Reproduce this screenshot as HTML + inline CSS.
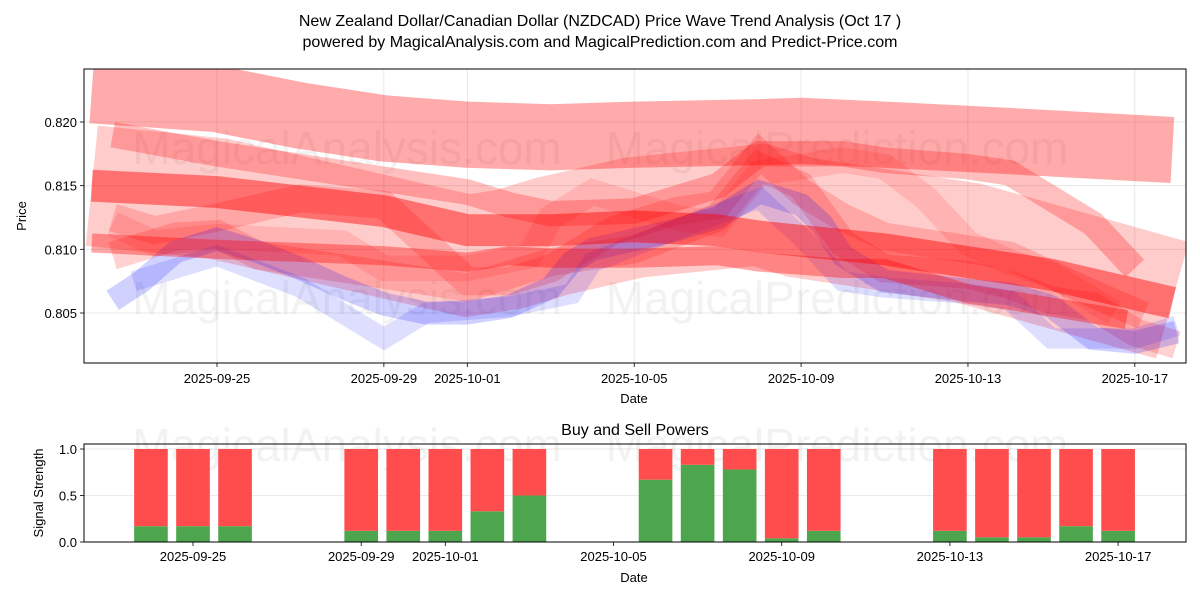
<!DOCTYPE html>
<html><head><meta charset="utf-8"><style>
body{margin:0;background:#fff;}
svg text{font-family:"Liberation Sans",sans-serif;}
</style></head><body>
<svg id="c" width="1200" height="600" xmlns="http://www.w3.org/2000/svg">
<text x="600" y="26" font-size="16" text-anchor="middle">New Zealand Dollar/Canadian Dollar (NZDCAD) Price Wave Trend Analysis (Oct 17 )</text>
<text x="600" y="47" font-size="16" text-anchor="middle">powered by MagicalAnalysis.com and MagicalPrediction.com and Predict-Price.com</text>
<g id="top"></g>
<g id="bot"></g>
</svg>
<script>
// ---- data ----
const dateTicks = ["2025-09-25","2025-09-29","2025-10-01","2025-10-05","2025-10-09","2025-10-13","2025-10-17"];
const dateTickDays = [0,4,6,10,14,18,22];
const priceTicks = [0.805,0.810,0.815,0.820];
const bandTopDays = [-3,0,2,4,6,8,10,13,14,16,19,22.9];
const bandTopVals = [0.8225,0.8218,0.8205,0.8195,0.8190,0.8188,0.8190,0.8192,0.8193,0.8190,0.8185,0.8178];
const bandWideDays = [-3,0,2,4,6,7,8,10,13,14,16,18,22.9];
const bandWideVals = [0.8150,0.8140,0.8125,0.8110,0.8095,0.8100,0.8110,0.8125,0.8135,0.8125,0.8115,0.8105,0.8060];
const bandMainDays = [-3,0,4,6,8,10,12,13,16,18,20,22.9];
const bandMainVals = [0.8150,0.8145,0.8130,0.8115,0.8115,0.8118,0.8115,0.8110,0.8100,0.8090,0.8080,0.8058];
const bandLowDays = [-3,0,4,6,7,8,10,12,13,15,16,18,19,21.8];
const bandLowVals = [0.8105,0.8100,0.8095,0.8090,0.8095,0.8093,0.8093,0.8095,0.8090,0.8085,0.8085,0.8065,0.8060,0.8045];
const waveADays = [-2.5,0,2,4,6,7,8,10,12,13,15,16,18,19,21,22];
const waveAVals = [0.8190,0.8175,0.8165,0.8155,0.8145,0.8135,0.8128,0.8130,0.8150,0.8175,0.8175,0.8170,0.8165,0.8160,0.8120,0.8085];
const waveBDays = [-2.5,-1.5,0,2,4,5,6,7,8,9.5,11,12,13,14,15,16,19,21,22.2];
const waveBVals = [0.8125,0.8115,0.8125,0.8140,0.8135,0.8105,0.8075,0.8075,0.8085,0.8115,0.8130,0.8135,0.8175,0.8145,0.8125,0.8110,0.8095,0.8065,0.8048];
const waveCDays = [-2.5,-1,0,1,3,4,5,6,7,8,9,10,12,13,14,15,16,18,19,20,21,22,23];
const waveCVals = [0.8095,0.8110,0.8112,0.8095,0.8085,0.8080,0.8075,0.8070,0.8080,0.8090,0.8095,0.8100,0.8125,0.8165,0.8150,0.8105,0.8085,0.8080,0.8072,0.8060,0.8055,0.8035,0.8025];
const waveDDays = [-2.5,-1.5,0,3,4,6,7.5,8,9,10,11,12,13,14,15,16,17,18,19,20,21.5];
const waveDVals = [0.8120,0.8105,0.8110,0.8105,0.8085,0.8085,0.8095,0.8125,0.8145,0.8135,0.8125,0.8120,0.8160,0.8165,0.8170,0.8165,0.8140,0.8105,0.8090,0.8080,0.8050];
const blueADays = [-2.5,-1.8,-1,0,1,2,3,4,5,6,7,8,8.5,9,11,12,13,14,14.5,15,16,18,19,20,21,22,23];
const blueAVals = [0.8060,0.8075,0.8098,0.8108,0.8098,0.8085,0.8070,0.8057,0.8050,0.8050,0.8055,0.8070,0.8090,0.8100,0.8115,0.8125,0.8145,0.8135,0.8120,0.8095,0.8075,0.8068,0.8065,0.8055,0.8030,0.8027,0.8035];
const blueBDays = [-2,0,2,4,5,7,8.5,9,12,13,14,15,16,18,19,20,22,23];
const blueBVals = [0.8075,0.8095,0.8070,0.8030,0.8050,0.8055,0.8065,0.8090,0.8128,0.8140,0.8110,0.8075,0.8070,0.8065,0.8060,0.8030,0.8030,0.8040];
const barDays = [-1,0,1,4,5,6,7,8,11,12,13,14,15,18,19,20,21,22];
const buyVals = [0.17,0.17,0.17,0.12,0.12,0.12,0.33,0.5,0.67,0.83,0.78,0.04,0.12,0.12,0.05,0.05,0.17,0.12];
const signalTicks = [0.0,0.5,1.0];

const NS="http://www.w3.org/2000/svg";
function mk(tag,attrs,parent){const e=document.createElementNS(NS,tag);for(const k in attrs)e.setAttribute(k,attrs[k]);parent.appendChild(e);return e;}
const topG=document.getElementById('top'), bot=document.getElementById('bot');
const T={x0:84,x1:1186,y0:69,y1:363};
const xT=d=>217+41.72*d;
const yT=p=>122+(0.820-p)*12733;
const B={x0:84,x1:1186,y0:444,y1:542};
const xB=d=>193+42.05*d;
const yB=v=>542-v*93;

dateTickDays.forEach((d,i)=>{
  const g=mk('line',{x1:xT(d),x2:xT(d),y1:T.y0,y2:T.y1,stroke:'#b0b0b0','stroke-opacity':0.35,'stroke-width':0.8},topG);
  
  
  mk('line',{x1:xT(d),x2:xT(d),y1:T.y1,y2:T.y1+4,stroke:'#000','stroke-width':0.8},topG);
  const t=mk('text',{x:xT(d),y:T.y1+20,'font-size':13,'text-anchor':'middle'},topG);t.textContent=dateTicks[i];
  
  
});
priceTicks.forEach(p=>{
  const g=mk('line',{x1:T.x0,x2:T.x1,y1:yT(p),y2:yT(p),stroke:'#b0b0b0','stroke-opacity':0.35,'stroke-width':0.8},topG);
  
  
});
[[347,148,'MagicalAnalysis.com'],[837,148,'MagicalPrediction.com'],[347,298,'MagicalAnalysis.com'],[837,298,'MagicalPrediction.com']].forEach(w=>{
  const t=mk('text',{x:w[0],y:w[1]+16,'font-size':46,'text-anchor':'middle',fill:'#000','fill-opacity':0.05},topG);t.textContent=w[2];
  
  
});
function band(days,vals,w,color,op,name){
  const pts=days.map((d,i)=>xT(d).toFixed(1)+','+yT(vals[i]).toFixed(1)).join(' ');
  const e=mk('polyline',{points:pts,fill:'none',stroke:color,'stroke-width':w*12733,'stroke-opacity':op,'stroke-linejoin':'miter','stroke-linecap':'butt'},topG);
  
  
}
band(bandWideDays,bandWideVals,0.0095,'#ff0000',0.2,'wide-band');
band(waveDDays,waveDVals,0.0020,'#ff0000',0.12,'wave-band-d');
band(waveBDays,waveBVals,0.0022,'#ff0000',0.18,'wave-band-b');
band(waveCDays,waveCVals,0.0022,'#ff0000',0.18,'wave-band-c');
band(blueBDays,blueBVals,0.0016,'#0000ff',0.13,'blue-band-b');
band(blueADays,blueAVals,0.0018,'#0000ff',0.18,'blue-band-a');
band(waveADays,waveAVals,0.0020,'#ff0000',0.25,'wave-band-a');
band(bandLowDays,bandLowVals,0.0015,'#ff0000',0.35,'low-band');
band(bandMainDays,bandMainVals,0.0025,'#ff0000',0.45,'main-band');
band(bandTopDays,bandTopVals,0.0052,'#ff0000',0.33,'top-band');
mk('rect',{x:0,y:55,width:T.x0,height:320,fill:'#fff'},topG);
mk('rect',{x:T.x0,y:55,width:T.x1-T.x0,height:T.y0-55,fill:'#fff'},topG);
mk('rect',{x:T.x1,y:55,width:1200-T.x1,height:320,fill:'#fff'},topG);
priceTicks.forEach(p=>{
  mk('line',{x1:T.x0-4,x2:T.x0,y1:yT(p),y2:yT(p),stroke:'#000','stroke-width':0.8},topG);
  const t=mk('text',{x:T.x0-7,y:yT(p)+5,'font-size':13,'text-anchor':'end'},topG);t.textContent=p.toFixed(3);
  
  
});
const fr=mk('rect',{x:T.x0,y:T.y0,width:T.x1-T.x0,height:T.y1-T.y0,fill:'none',stroke:'#000','stroke-width':1},topG);


let t=mk('text',{x:634,y:403,'font-size':13,'text-anchor':'middle'},topG);t.textContent='Date';


t=mk('text',{x:26,y:216,'font-size':13,'text-anchor':'middle',transform:'rotate(-90 26 216)'},topG);t.textContent='Price';



t=mk('text',{x:635,y:435,'font-size':16,'text-anchor':'middle'},bot);t.textContent='Buy and Sell Powers';


signalTicks.forEach(v=>{
  const g=mk('line',{x1:B.x0,x2:B.x1,y1:yB(v),y2:yB(v),stroke:'#b0b0b0','stroke-opacity':0.35,'stroke-width':0.8},bot);
  
  
  mk('line',{x1:B.x0-4,x2:B.x0,y1:yB(v),y2:yB(v),stroke:'#000','stroke-width':0.8},bot);
  const l=mk('text',{x:B.x0-7,y:yB(v)+5,'font-size':13,'text-anchor':'end'},bot);l.textContent=v.toFixed(1);
  
  
});
[[347,445,'MagicalAnalysis.com'],[837,445,'MagicalPrediction.com']].forEach(w=>{
  const l=mk('text',{x:w[0],y:w[1]+16,'font-size':46,'text-anchor':'middle',fill:'#000','fill-opacity':0.05},bot);l.textContent=w[2];
  
  
});
barDays.forEach((d,i)=>{
  const bw=42.05*0.8, x=xB(d)-bw/2;
  const g=mk('rect',{x:x,y:yB(buyVals[i]),width:bw,height:yB(0)-yB(buyVals[i]),fill:'#4da64d'},bot);
  
  
  const r=mk('rect',{x:x,y:yB(1),width:bw,height:yB(buyVals[i])-yB(1),fill:'#ff4d4d'},bot);
  
  
});
dateTickDays.forEach((d,i)=>{
  mk('line',{x1:xB(d),x2:xB(d),y1:B.y1,y2:B.y1+4,stroke:'#000','stroke-width':0.8},bot);
  const l=mk('text',{x:xB(d),y:B.y1+19,'font-size':13,'text-anchor':'middle'},bot);l.textContent=dateTicks[i];
  
  
});
const fb=mk('rect',{x:B.x0,y:B.y0,width:B.x1-B.x0,height:B.y1-B.y0,fill:'none',stroke:'#000','stroke-width':1},bot);


t=mk('text',{x:634,y:582,'font-size':13,'text-anchor':'middle'},bot);t.textContent='Date';


t=mk('text',{x:43,y:493,'font-size':13,'text-anchor':'middle',transform:'rotate(-90 43 493)'},bot);t.textContent='Signal Strength';


</script>
</body></html>
